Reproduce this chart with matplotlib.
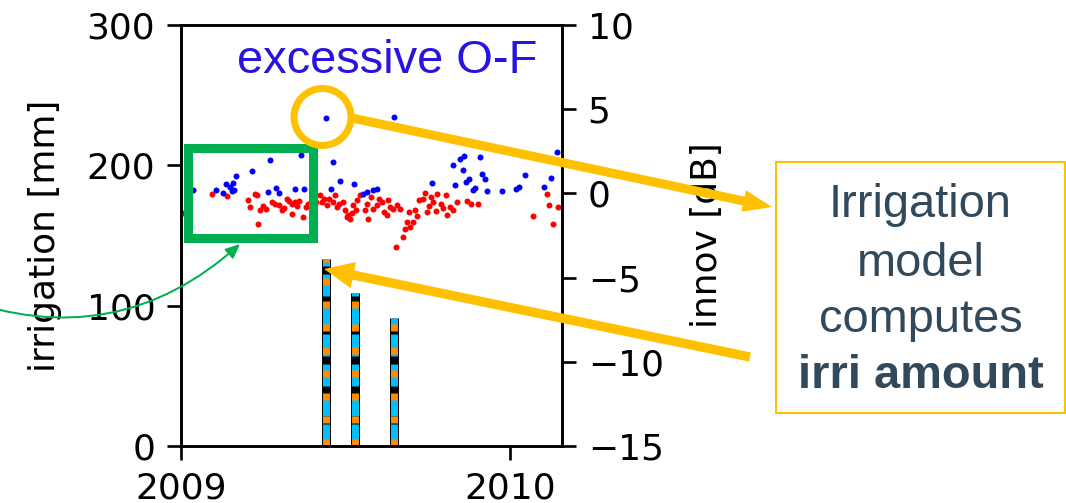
import numpy as np
import matplotlib
matplotlib.use('Agg')
import matplotlib.pyplot as plt
from matplotlib.patches import Rectangle, Circle, FancyArrowPatch, ArrowStyle
from matplotlib.transforms import Affine2D

# irrigation events (decimal year, mm)
irri_time = [2009.44, 2009.529, 2009.647]
irri_mm = [133, 109, 91]

# innovations below threshold (red) and excessive O-F (blue), decimal year / dB
red_t = [0.005, 0.095, 0.139, 0.205, 0.21, 0.225, 0.232, 0.24, 0.248, 0.258, 0.233,
         0.276, 0.286, 0.299, 0.306, 0.313, 0.321, 0.329, 0.336, 0.347, 0.352, 0.36,
         0.336, 0.37, 0.38, 0.387, 0.394, 0.402, 0.41, 0.422, 0.428, 0.435, 0.443,
         0.451, 0.463, 0.468, 0.473, 0.481, 0.493, 0.498, 0.504, 0.509, 0.514, 0.519,
         0.524, 0.532, 0.534, 0.544, 0.559, 0.564, 0.569, 0.576, 0.585, 0.595, 0.603,
         0.61, 0.617, 0.625, 0.63, 0.635, 0.645, 0.656, 0.666, 0.653, 0.674, 0.681,
         0.686, 0.696, 0.706, 0.694, 0.711, 0.718, 0.724, 0.735, 0.742, 0.747, 0.755,
         0.759, 0.767, 0.775, 0.779, 0.789, 0.797, 0.805, 0.809, 0.818, 0.826, 0.84,
         0.87, 0.88, 0.902, 1.069, 1.111, 1.117, 1.132, 1.147]
red_db = [-1.17, -0.02, -0.16, -0.38, -0.81, -0.02, -0.12, -0.97, -0.77, -0.95, -1.8,
          -0.52, -0.61, -0.71, -1.01, -0.85, -0.32, -0.46, -0.61, -0.52, -0.77, -0.46,
          -1.25, -1.41, -0.81, -0.65, -0.65, -0.81, -0.52, -0.12, -0.52, -0.32, -0.71,
          -0.32, -0.52, -0.12, -0.81, -0.65, -0.52, -1.01, -1.41, -1.31, -1.51, -1.17,
          -0.71, -1.01, -0.42, -0.12, -1.01, -0.62, -1.51, -0.22, -0.91, -0.71, -0.32,
          -0.52, -1.11, -1.31, -0.42, -0.81, -0.91, -0.71, -0.91, -3.19, -2.56, -2.1,
          -1.71, -2.0, -1.71, -1.11, -1.01, -1.37, -0.42, -0.32, 0.02, -1.11, -0.77,
          -0.22, -0.52, -1.05, -0.02, -0.65, -0.85, -0.12, -1.31, -0.81, -1.01, -0.52,
          -0.46, -0.65, -0.62, -1.37, -0.02, -0.71, -1.81, -0.81]
blue_t = [0.037, 0.106, 0.129, 0.136, 0.149, 0.159, 0.154, 0.162, 0.167, 0.215, 0.271,
          0.265, 0.288, 0.298, 0.364, 0.347, 0.374, 0.44, 0.648, 0.461, 0.456, 0.483,
          0.526, 0.552, 0.564, 0.585, 0.597, 0.762, 0.828, 0.848, 0.861, 0.856, 0.909,
          0.833, 0.866, 0.876, 0.887, 0.894, 0.914, 0.924, 0.931, 0.975, 1.018, 1.026,
          1.046, 1.104, 1.124, 1.142]
blue_db = [0.18, 0.22, 0.04, 0.58, 0.38, 0.62, 0.14, 0.18, 1.01, 1.31, 1.96, 0.06, 0.34,
           0.04, 2.26, 0.26, 0.26, 4.45, 4.52, 1.87, 0.26, 0.71, 0.58, -0.02, 0.08, 0.18,
           0.28, 0.63, 1.67, 2.06, 2.2, 1.41, 2.16, 0.52, 0.67, 0.87, 0.18, 0.34, 1.17,
           0.87, 0.12, 0.14, 0.24, 0.38, 1.11, 0.38, 0.93, 2.46]
red_t = 2009 + np.array(red_t)
blue_t = 2009 + np.array(blue_t)

W, H, DPI = 1066, 503, 240
fig = plt.figure(figsize=(W / DPI, H / DPI), dpi=DPI)
plt.rcParams['lines.scale_dashes'] = False
fs = 10.8

ax = fig.add_axes([181 / W, 1 - 446 / H, 381 / W, 421 / H])
ax.vlines(irri_time, 0, irri_mm, colors='k', lw=2.7)
ax.vlines(irri_time, 0, irri_mm, colors='deepskyblue', lw=2.1, linestyles=[(0, (6.6, 2.4))])
ax.vlines(irri_time, 0, irri_mm, colors='darkorange', lw=2.1, linestyles=[(0, (2.1, 4.8))])
ax.set_ylim(0, 300)
ax.set_yticks([0, 100, 200, 300])
ax.set_xlim(2009, 2010.158)
ax.set_xticks([2009, 2010])
ax.set_xticklabels(['2009', '2010'])
ax.set_ylabel('irrigation [mm]', fontsize=fs, labelpad=7.5)
ax.tick_params(labelsize=fs, length=4.2)

ax2 = ax.twinx()
ax2.plot(red_t, red_db, 'o', color='r', ms=1.8, mew=0)
ax2.plot(blue_t, blue_db, 'o', color='b', ms=1.8, mew=0)
ax2.set_ylim(-15, 10)
ax2.set_yticks([-15, -10, -5, 0, 5, 10])
ax2.set_ylabel('innov [dB]', fontsize=fs, labelpad=8)
ax2.tick_params(labelsize=fs, length=4.2)

# overlay annotations in pixel coordinates (y down)
pix = Affine2D().scale(1 / W, -1 / H).translate(0, 1) + fig.transFigure
gold = '#ffc000'
green = '#00b050'

fig.add_artist(Rectangle((187.5, 147.5), 125, 90, transform=pix, fill=False,
                         ec=green, lw=2.7, joinstyle='miter'))
fig.add_artist(FancyArrowPatch((-40, 298), (240, 244), transform=pix,
                               connectionstyle='arc3,rad=0.3',
                               arrowstyle=ArrowStyle('-|>', head_length=3.6, head_width=1.6),
                               mutation_scale=1, color=green, lw=0.6,
                               shrinkA=0, shrinkB=0))
fig.add_artist(Circle((322.5, 117), 28.5, transform=pix, fill=False, ec=gold, lw=2.1))
fig.add_artist(FancyArrowPatch((352, 118), (772, 207), transform=pix,
                               arrowstyle=ArrowStyle('simple', head_length=8.7,
                                                     head_width=6.6, tail_width=2.7),
                               mutation_scale=1, fc=gold, ec='none', lw=0,
                               shrinkA=0, shrinkB=0))
fig.add_artist(FancyArrowPatch((750, 357), (324, 269), transform=pix,
                               arrowstyle=ArrowStyle('simple', head_length=9,
                                                     head_width=8, tail_width=2.8),
                               mutation_scale=1, fc=gold, ec='none', lw=0,
                               shrinkA=0, shrinkB=0))

arial = 'Liberation Sans'
fig.text(237, 73, 'excessive O-F', transform=pix, color='#2814e0', fontsize=14.1,
         family=arial, ha='left', va='baseline')

fig.add_artist(Rectangle((776, 162), 289, 251, transform=pix, fill=False, ec=gold, lw=0.6))
txtc = '#31495a'
box_lines = ['Irrigation', 'model', 'computes']
base_y = [216.7, 276, 331.7]
for t, y in zip(box_lines, base_y):
    fig.text(920.5, y, t, transform=pix, color=txtc, fontsize=14.1, family=arial,
             ha='center', va='baseline')
fig.text(920.5, 388.3, 'irri amount', transform=pix, color=txtc, fontsize=14.1,
         family=arial, weight='bold', ha='center', va='baseline')

fig.savefig('out.png', dpi=DPI)
